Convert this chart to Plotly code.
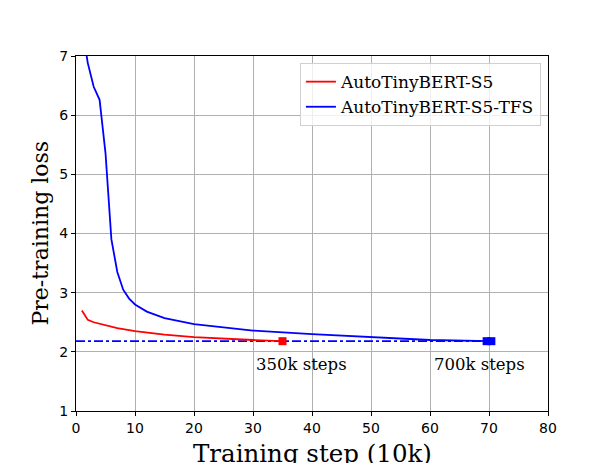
import plotly.graph_objects as go

# AutoTinyBERT-S5 (trained 350k steps)
s5_step = [1, 2, 3, 5, 7, 10, 15, 20, 25, 30, 35]
s5_loss = [2.70, 2.54, 2.50, 2.45, 2.40, 2.35, 2.29, 2.25, 2.22, 2.20, 2.18]

# AutoTinyBERT-S5-TFS (trained 700k steps)
tfs_step = [1, 2, 3, 4, 5, 6, 7, 8, 9, 10, 12, 15, 20, 25, 30, 40, 50, 60, 70]
tfs_loss = [7.5, 6.88, 6.48, 6.26, 5.36, 3.90, 3.35, 3.05, 2.90, 2.80, 2.68, 2.57,
            2.47, 2.41, 2.36, 2.30, 2.25, 2.20, 2.18]

target_loss = 2.18
end_steps = [35, 70]
end_labels = ["350k steps", "700k steps"]

serif = "DejaVu Serif"
sans = "DejaVu Sans"

fig = go.Figure()
fig.add_trace(go.Scatter(x=[0, 70], y=[target_loss, target_loss], mode="lines",
                         line=dict(color="blue", width=1.8, dash="dashdot"),
                         showlegend=False))
fig.add_trace(go.Scatter(x=s5_step, y=s5_loss, mode="lines", name="AutoTinyBERT-S5",
                         line=dict(color="red", width=1.8)))
fig.add_trace(go.Scatter(x=tfs_step, y=tfs_loss, mode="lines", name="AutoTinyBERT-S5-TFS",
                         line=dict(color="blue", width=1.8)))
fig.add_trace(go.Scatter(x=[end_steps[0]], y=[target_loss], mode="markers",
                         marker=dict(symbol="square", size=8, color="red"), showlegend=False))
fig.add_trace(go.Scatter(x=[end_steps[1] - 0.4, end_steps[1] + 0.4], y=[target_loss, target_loss],
                         mode="markers", marker=dict(symbol="square", size=8, color="blue"),
                         showlegend=False))

for xs, txt in zip([30.2, 60.3], end_labels):
    fig.add_annotation(x=xs, y=1.78, text=txt, showarrow=False, xanchor="left",
                       font=dict(family=serif, size=16.5, color="black"))

# axis titles placed as annotations to match the original offsets
fig.add_annotation(x=0.5, y=0, xref="paper", yref="paper", text="Training step (10k)",
                   showarrow=False, yanchor="middle", yshift=-42,
                   font=dict(family=serif, size=24.5, color="black"))
fig.add_annotation(x=0, y=0.5, xref="paper", yref="paper", text="Pre-training loss",
                   showarrow=False, textangle=-90, xanchor="center", xshift=-36,
                   font=dict(family=serif, size=22, color="black"))

axis_common = dict(showgrid=True, gridcolor="#b0b0b0", gridwidth=1, showline=True,
                   linecolor="black", linewidth=1, mirror=True, ticks="outside",
                   ticklen=4, tickcolor="black", zeroline=False, automargin=False,
                   tickfont=dict(family=sans, size=14, color="black"))

fig.update_xaxes(range=[0, 80], dtick=10, **axis_common)
fig.update_yaxes(range=[1, 7], dtick=1, **axis_common)

fig.update_layout(
    width=610, height=463,
    margin=dict(l=68, r=70, t=48, b=60),
    plot_bgcolor="white", paper_bgcolor="white",
    legend=dict(x=0.985, y=0.98, xanchor="right", yanchor="top",
                bgcolor="rgba(255,255,255,0.8)", bordercolor="#d0d0d0", borderwidth=1,
                font=dict(family=serif, size=17, color="black")),
)

fig.write_html("out.html")
